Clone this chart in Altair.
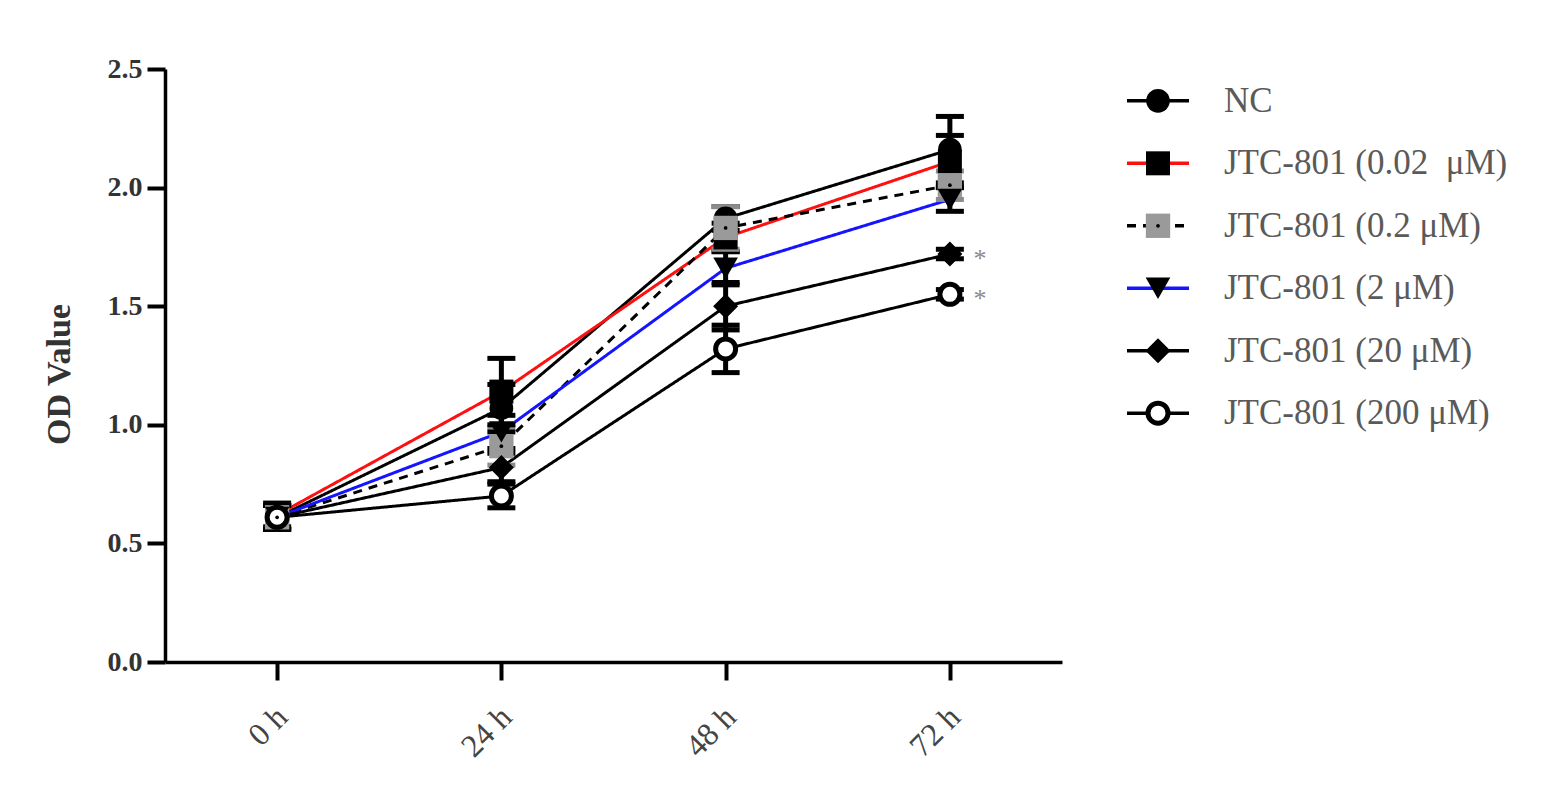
import altair as alt
import pandas as pd

times = ["0 h", "24 h", "48 h", "72 h"]
series = ["NC", "JTC-801 (0.02 \u00a0μM)", "JTC-801 (0.2 μM)", "JTC-801 (2 μM)",
          "JTC-801 (20 μM)", "JTC-801 (200 μM)"]

nc_mean = [0.61, 1.07, 1.87, 2.16]
c002_mean = [0.62, 1.14, 1.79, 2.11]
c02_mean = [0.61, 0.91, 1.83, 2.01]
c2_mean = [0.61, 0.97, 1.66, 1.95]
c20_mean = [0.61, 0.82, 1.50, 1.72]
c200_mean = [0.61, 0.70, 1.32, 1.55]

nc_err = [0.05, 0.10, 0.05, 0.14]
c002_err = [0.05, 0.14, 0.06, 0.11]
c02_err = [0.05, 0.08, 0.09, 0.06]
c2_err = [0.05, 0.07, 0.07, 0.05]
c20_err = [0.05, 0.06, 0.10, 0.02]
c200_err = [0.05, 0.05, 0.10, 0.02]

line_colors = ["#000000", "#ff1010", "#000000", "#1414ff", "#000000", "#000000"]
line_dashes = [[1, 0], [1, 0], [9, 7], [1, 0], [1, 0], [1, 0]]
marker_shapes = ["circle", "square", "square", "triangle-down", "diamond", "circle"]
marker_sizes = [560, 640, 640, 560, 760, 400]
marker_fills = ["#000000", "#000000", "#9a9a9a", "#000000", "#000000", "#ffffff"]
bar_colors = ["#000000", "#000000", "#8c8c8c", "#000000", "#000000", "#000000"]
starred = ["JTC-801 (20 μM)", "JTC-801 (200 μM)"]

means = [nc_mean, c002_mean, c02_mean, c2_mean, c20_mean, c200_mean]
errs = [nc_err, c002_err, c02_err, c2_err, c20_err, c200_err]

rows = []
for s, m, e in zip(series, means, errs):
    for t, v, d in zip(times, m, e):
        rows.append({"series": s, "time": t, "od": v, "lo": v - d, "hi": v + d,
                     "star": "*" if (s in starred and t == times[-1]) else ""})
df = pd.DataFrame(rows)
leg = pd.DataFrame({"series": series})

FONT = "Liberation Serif"
OPEN = series[-1]
DOTTED = series[2]

stroke_enc = alt.Stroke("series:N", scale=alt.Scale(domain=series, range=line_colors), legend=None)
dash_enc = alt.StrokeDash("series:N", scale=alt.Scale(domain=series, range=line_dashes), legend=None)
shape_enc = alt.Shape("series:N", scale=alt.Scale(domain=series, range=marker_shapes), legend=None)
size_enc = alt.Size("series:N", scale=alt.Scale(domain=series, range=marker_sizes), legend=None)
fill_enc = alt.Fill("series:N", scale=alt.Scale(domain=series, range=marker_fills), legend=None)
bar_enc = alt.Color("series:N", scale=alt.Scale(domain=series, range=bar_colors), legend=None)

x_enc = alt.X("time:O", sort=times, scale=alt.Scale(type="point", padding=0.5),
              axis=alt.Axis(title=None, labelAngle=-45, labelAlign="right", labelBaseline="top",
                            labelFont=FONT, labelFontSize=32, labelFontWeight="normal",
                            labelColor="#444444", labelPadding=21, labelOffset=-6,
                            tickSize=18, tickWidth=4,
                            tickColor="black", domainColor="black", domainWidth=3.5))
y_enc = alt.Y("od:Q", scale=alt.Scale(domain=[0, 2.5], nice=False),
              axis=alt.Axis(title="OD Value", values=[0, 0.5, 1.0, 1.5, 2.0, 2.5], format=".1f",
                            labelFont=FONT, labelFontSize=28, labelFontWeight="bold",
                            labelColor="#333333", labelPadding=5, tickSize=18, tickWidth=4,
                            tickColor="black", domainColor="black", domainWidth=3.5,
                            titleFont=FONT, titleFontSize=34, titleFontWeight="bold",
                            titleColor="#333333", titlePadding=31, titleY=305, grid=False))

base = alt.Chart(df)
xs = alt.X("time:O", sort=times)
lines = base.mark_line(strokeWidth=3).encode(x=x_enc, y=y_enc, stroke=stroke_enc,
                                             strokeDash=dash_enc, detail="series:N",
                                             order=alt.Order("time:O"))
ebars = base.mark_rule(strokeWidth=5).encode(x=xs, y="lo:Q", y2="hi:Q", color=bar_enc)
caps_hi = base.mark_tick(size=28, thickness=5, opacity=1).encode(x=xs, y="hi:Q", color=bar_enc)
caps_lo = base.mark_tick(size=28, thickness=5, opacity=1).encode(x=xs, y="lo:Q", color=bar_enc)
pts = base.transform_filter(alt.datum.series != OPEN).mark_point(
    filled=True, opacity=1).encode(x=xs, y="od:Q", shape=shape_enc, fill=fill_enc, size=size_enc)
opens = base.transform_filter(alt.datum.series == OPEN).mark_point(
    shape="circle", size=400, fill="white", stroke="black", strokeWidth=5, opacity=1,
    fillOpacity=1).encode(x=xs, y="od:Q")
dots = base.transform_filter(alt.datum.series == DOTTED).mark_point(
    shape="circle", size=14, filled=True, color="black", opacity=1).encode(x=xs, y="od:Q")
stars = base.transform_filter(alt.datum.star != "").mark_text(
    font=FONT, fontSize=26, color="#8a8a8a", dx=30, dy=5).encode(x=xs, y="od:Q", text="star:N")

main = alt.layer(lines, ebars, caps_hi, caps_lo, pts, opens, dots, stars).properties(
    width=897, height=593)

ly = alt.Y("series:N", sort=series, scale=alt.Scale(type="point", padding=0.51), axis=None)
lbase = alt.Chart(leg)
l_lines = lbase.mark_rule(strokeWidth=3.5).encode(
    x=alt.value(0), x2=alt.value(62), y=ly, stroke=stroke_enc, strokeDash=dash_enc)
l_pts = lbase.transform_filter(alt.datum.series != OPEN).mark_point(
    filled=True, opacity=1).encode(x=alt.value(31), y=ly, shape=shape_enc, fill=fill_enc,
                                   size=size_enc)
l_open = lbase.transform_filter(alt.datum.series == OPEN).mark_point(
    shape="circle", size=400, fill="white", stroke="black", strokeWidth=5, opacity=1,
    fillOpacity=1).encode(x=alt.value(31), y=ly)
l_dot = lbase.transform_filter(alt.datum.series == DOTTED).mark_point(
    shape="circle", size=14, filled=True, color="black", opacity=1).encode(x=alt.value(31), y=ly)
l_text = lbase.mark_text(align="left", baseline="middle", font=FONT, fontSize=35,
                         color="#5a5a5a").encode(x=alt.value(97), y=ly, text="series:N")
legend = alt.layer(l_lines, l_pts, l_open, l_dot, l_text).properties(width=380, height=376)

chart = alt.hconcat(main, legend, spacing=63).resolve_scale(
    x="independent", y="independent").properties(
    padding={"left": 34, "top": 47, "right": 5, "bottom": 5}).configure_view(stroke=None)

chart.save("out.html", embed_options={"renderer": "svg", "actions": False})
